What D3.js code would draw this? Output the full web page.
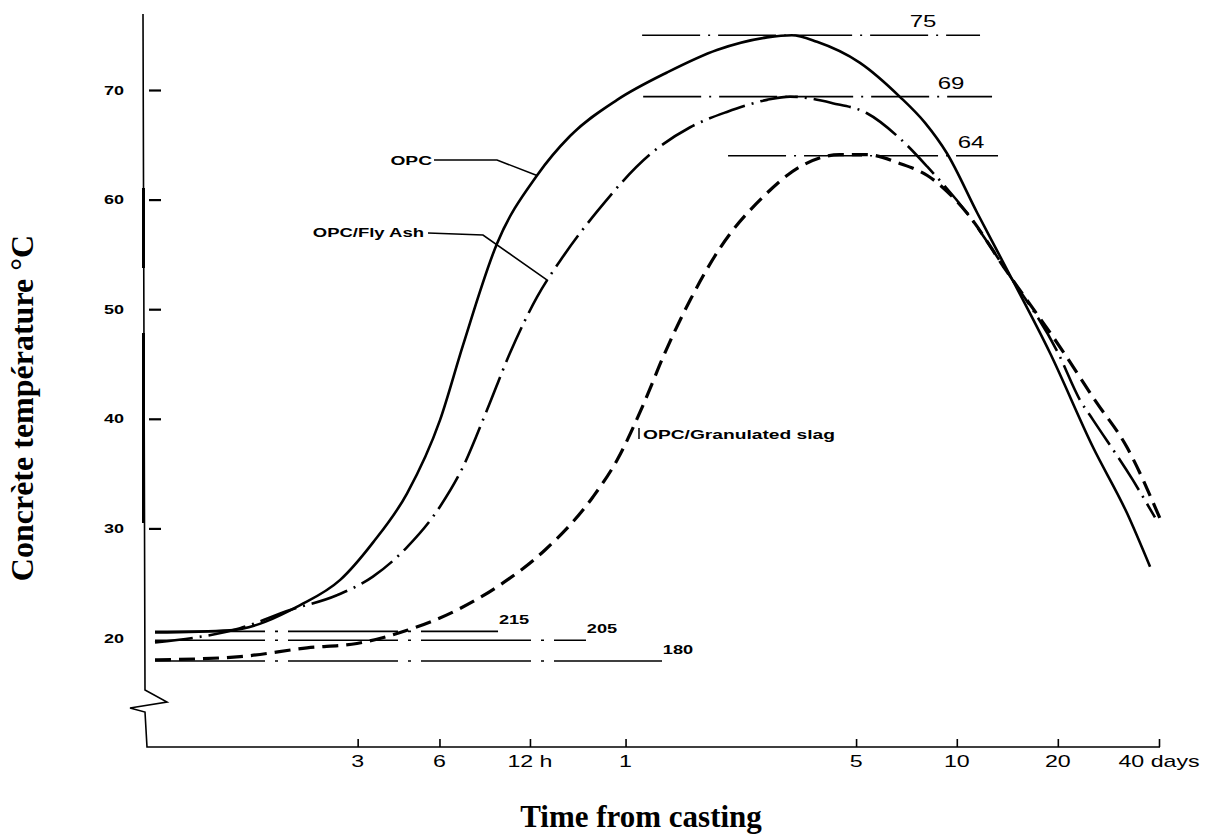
<!DOCTYPE html>
<html>
<head>
<meta charset="utf-8">
<script src="https://cdn.jsdelivr.net/npm/d3@7"></script>
<style>
body { margin: 0; background: #fff; }
svg { display: block; }
</style>
</head>
<body>
<script>
// hours from casting / concrete temperature
var hoursOPC = [0, 0.67, 1.7, 2.55, 3.44, 4.61, 6.03, 7.22, 9.38, 12.64, 16.1, 22.6, 32.2, 45.7, 64.8, 77, 91.6, 123, 162, 193, 224, 276, 339, 455, 611, 771, 903];
var tempOPC  = [20.5, 20.7, 23.0, 25.3, 28.7, 33.2, 39.9, 46.7, 56.0, 62.2, 65.8, 69.1, 71.6, 73.65, 74.8, 75.0, 74.4, 72.5, 69.4, 67.0, 64.25, 58.8, 53.6, 46.0, 37.4, 31.4, 26.5];

var hoursFlyAsh = [0, 0.79, 1.52, 2.47, 3.44, 4.61, 6.03, 7.22, 8.69, 10.34, 12.64, 15.3, 19.56, 28.5, 37.9, 49, 64.8, 76, 102, 129, 162, 196, 257, 339, 481, 559, 611, 803, 934];
var tempFlyAsh  = [19.6, 20.9, 22.55, 23.9, 25.6, 28.3, 32.0, 35.6, 40.8, 46.0, 51.1, 54.8, 58.9, 64.1, 66.6, 68.0, 69.1, 69.4, 68.8, 67.9, 65.6, 63.0, 58.8, 53.4, 46.0, 41.7, 39.9, 34.4, 31.0];

var hoursSlag = [0, 0.79, 1.83, 2.98, 4.61, 6.89, 9.59, 13.41, 19.0, 22.6, 27.2, 31.7, 37.9, 46.7, 63, 81.5, 107, 129, 162, 196, 257, 339, 501, 619, 771, 965];
var tempSlag  = [18.0, 18.3, 19.1, 19.5, 20.7, 22.55, 24.84, 28.03, 32.87, 36.24, 41.26, 46.0, 50.84, 55.58, 60.24, 63.0, 64.1, 64.1, 63.3, 62.2, 58.8, 53.4, 46.0, 41.7, 37.4, 30.95];

// peak marker lines
var peakValues = [75, 69.4, 64];
var peakLabels = ["75", "69", "64"];
var peakFrom   = [27, 27.2, 49.4];
var peakTo     = [281.5, 305.7, 318.5];

// starting lines lower left
var startValues = [20.6, 19.8, 17.9];
var startLabels = ["215", "205", "180"];
var startTo     = [9.45, 18.07, 31.08];

// axes
var yTickValues = [20, 30, 40, 50, 60, 70];
var xTickHours  = [3, 6, 12, 24, 120, 240, 480, 960];
var xTickLabels = ["3", "6", "12 h", "1", "5", "10", "20", "40 days"];

var svgWidth = 1224;
var svgHeight = 835;

var svg = d3.select("body")
            .append("svg")
            .attr("width", svgWidth)
            .attr("height", svgHeight);

var x = d3.scaleSymlog().constant(1)
          .domain([0, 960])
          .range([155, 1159]);

var y = d3.scaleLinear()
          .domain([20, 70])
          .range([638, 90]);

var sans = "'Liberation Sans', Arial, sans-serif";
var serif = "'Liberation Serif', 'Times New Roman', serif";

// stretched scan-looking text
function wideText(str, px, py, size, sx, anchor, weight) {
  return svg.append("text")
    .attr("transform", "translate(" + px + "," + py + ") scale(" + sx + ",1)")
    .attr("text-anchor", anchor)
    .attr("font-family", sans)
    .attr("font-size", size + "px")
    .attr("font-weight", weight || "normal")
    .attr("fill", "#000")
    .text(str);
}

// axis frame with the break
var frame = d3.path();
frame.moveTo(143, 14);
frame.lineTo(145, 690);
frame.lineTo(167, 702);
frame.lineTo(130, 708);
frame.lineTo(145, 712);
frame.lineTo(147, 747);
frame.lineTo(1160, 747);
svg.append("path")
   .attr("d", frame.toString())
   .attr("fill", "none")
   .attr("stroke", "#000")
   .attr("stroke-width", 1.6);

// thicker bits of the scanned axis
[[188, 268], [333, 523]].forEach(function(s) {
  svg.append("line")
     .attr("x1", 143.5).attr("x2", 143.5)
     .attr("y1", s[0]).attr("y2", s[1])
     .attr("stroke", "#000").attr("stroke-width", 3);
});

// y ticks (marks to the right of the axis)
svg.append("g")
   .attr("transform", "translate(149,0)")
   .call(d3.axisRight(y).tickValues(yTickValues.slice(1)).tickSize(12).tickFormat(""))
   .call(function(g) { g.select(".domain").remove(); })
   .selectAll("line").attr("stroke-width", 2.2);

yTickValues.forEach(function(v) {
  wideText(String(v), 124, y(v) + 4.5, 12, 1.5, "end", "bold");
});

// x ticks (marks above the axis)
svg.append("g")
   .attr("transform", "translate(0,747)")
   .call(d3.axisBottom(x).tickValues(xTickHours).tickSize(-8).tickFormat(""))
   .call(function(g) { g.select(".domain").remove(); })
   .selectAll("line").attr("stroke-width", 1.6);

xTickHours.forEach(function(h, i) {
  wideText(xTickLabels[i], x(h), 767, 16, 1.45, "middle");
});

// peak lines
var peakDash = "58,8,2,8";
var peakLabelDx = [-57, -41, -27];
peakValues.forEach(function(v, i) {
  svg.append("line")
     .attr("x1", x(peakFrom[i])).attr("x2", x(peakTo[i]))
     .attr("y1", y(v)).attr("y2", y(v))
     .attr("stroke", "#000").attr("stroke-width", 1.6)
     .attr("stroke-dasharray", peakDash);
  wideText(peakLabels[i], x(peakTo[i]) + peakLabelDx[i], y(v) - 8, 16, 1.5, "middle");
});

// start lines
startValues.forEach(function(v, i) {
  svg.append("line")
     .attr("x1", x(0)).attr("x2", x(startTo[i]))
     .attr("y1", y(v)).attr("y2", y(v))
     .attr("stroke", "#000").attr("stroke-width", 1.6)
     .attr("stroke-dasharray", "110,10,3,10");
  wideText(startLabels[i], x(startTo[i]) + 16, y(v) - 7, 13, 1.4, "middle", "bold");
});

// curves
var line = d3.line()
             .x(function(d) { return x(d[0]); })
             .y(function(d) { return y(d[1]); })
             .curve(d3.curveMonotoneX);

var series = [
  { t: hoursOPC,    v: tempOPC,    dash: null,        w: 2.6 },
  { t: hoursFlyAsh, v: tempFlyAsh, dash: "38,7,2,7",  w: 2.6 },
  { t: hoursSlag,   v: tempSlag,   dash: "16,8",      w: 3.2 }
];

series.forEach(function(s) {
  svg.append("path")
     .datum(d3.zip(s.t, s.v))
     .attr("d", line)
     .attr("fill", "none")
     .attr("stroke", "#000")
     .attr("stroke-width", s.w)
     .attr("stroke-dasharray", s.dash);
});

// annotations with leaders
function leader(pts) {
  svg.append("path")
     .attr("d", d3.line()(pts))
     .attr("fill", "none")
     .attr("stroke", "#000")
     .attr("stroke-width", 1.6);
}

wideText("OPC", 432, 165, 12, 1.6, "end", "bold");
leader([[434, 160], [497, 160], [x(12.64), y(62.2)]]);

wideText("OPC/Fly Ash", 424, 237, 12, 1.54, "end", "bold");
leader([[428, 233], [483, 235], [x(13.7), y(52.6)]]);

svg.append("line")
   .attr("x1", 639).attr("x2", 639)
   .attr("y1", 428).attr("y2", 439)
   .attr("stroke", "#000").attr("stroke-width", 1.5);
wideText("OPC/Granulated slag", 643, 439, 12, 1.6, "start", "bold");

// axis titles
svg.append("text")
   .attr("transform", "translate(33,408) rotate(-90)")
   .attr("text-anchor", "middle")
   .attr("font-family", serif)
   .attr("font-weight", "bold")
   .attr("font-size", "32px")
   .text("Concrète température °C");

svg.append("text")
   .attr("x", 641)
   .attr("y", 827)
   .attr("text-anchor", "middle")
   .attr("font-family", serif)
   .attr("font-weight", "bold")
   .attr("font-size", "31px")
   .text("Time from casting");
</script>
</body>
</html>
